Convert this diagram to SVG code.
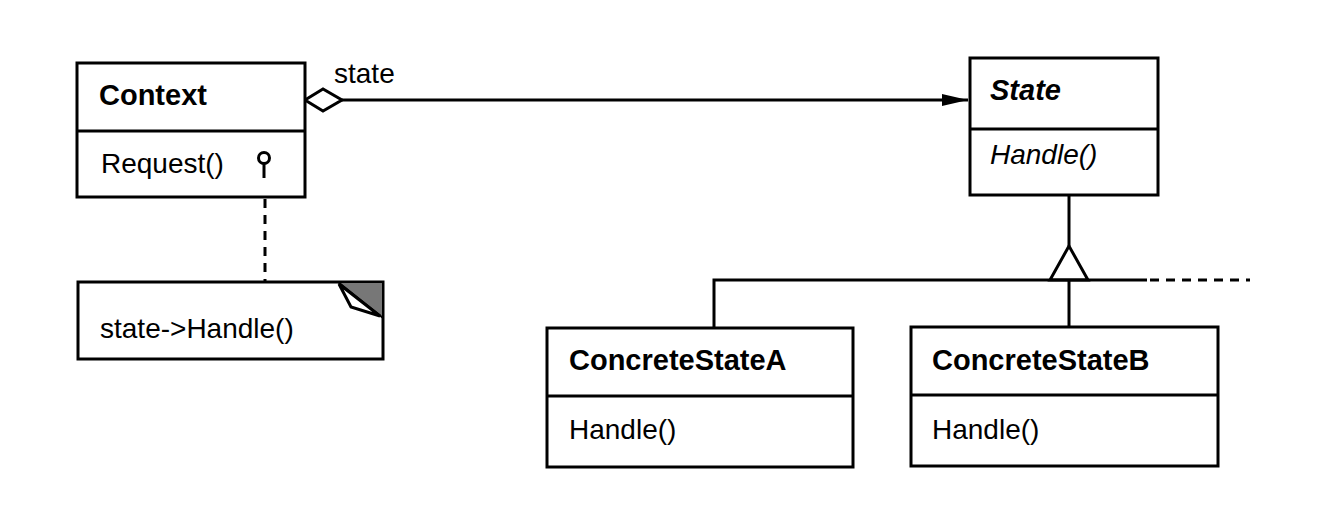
<svg xmlns="http://www.w3.org/2000/svg" width="1342" height="516" viewBox="0 0 1342 516">
  <defs>
    <style>
      .box { fill: #fff; stroke: #000; stroke-width: 3; }
      .div { stroke: #000; stroke-width: 3; fill: none; }
      .line { stroke: #000; stroke-width: 3; fill: none; }
      .dash { stroke: #000; stroke-width: 3; fill: none; stroke-dasharray: 9 7; }
      .cls { font-family: "Liberation Sans", Arial, sans-serif; font-size: 29px; font-weight: bold; fill: #000; }
      .op { font-family: "Liberation Sans", Arial, sans-serif; font-size: 28px; fill: #000; }
      .abs { font-style: italic; }
    </style>
    <marker id="arrowFilled" viewBox="0 0 26 14" refX="26" refY="7" markerWidth="26" markerHeight="14" markerUnits="userSpaceOnUse" orient="auto">
      <path d="M0,1 L26,7 L0,13 Z" fill="#000"/>
    </marker>
  </defs>

  <rect width="1342" height="516" fill="#fff"/>

  <!-- connectors -->
  <g id="connectors">
    <!-- aggregation Context -> State -->
    <line class="line" x1="342" y1="100" x2="968" y2="100" marker-end="url(#arrowFilled)"/>
    <polygon points="305,100 323,89 342,100 323,111" fill="#fff" stroke="#000" stroke-width="3"/>
    <text class="op" x="334" y="83">state</text>

    <!-- note link -->
    <line class="dash" x1="265" y1="199" x2="265" y2="282" stroke-dasharray="7 6"/>

    <!-- inheritance tree -->
    <line class="line" x1="1069" y1="196" x2="1069" y2="246"/>
    <polygon points="1069,246 1050,280 1088,280" fill="#fff" stroke="#000" stroke-width="3"/>
    <polyline class="line" points="714,328 714,280 1147,280"/>
    <line class="dash" x1="1150" y1="280" x2="1250" y2="280"/>
    <line class="line" x1="1069" y1="280" x2="1069" y2="327"/>
  </g>

  <!-- Context -->
  <g id="context">
    <rect class="box" x="77" y="63" width="228" height="134"/>
    <line class="div" x1="77" y1="131" x2="305" y2="131"/>
    <text class="cls" x="99" y="105">Context</text>
    <text class="op" x="101" y="173">Request()</text>
    <circle cx="264" cy="158" r="5.5" fill="#fff" stroke="#000" stroke-width="3"/>
    <line class="line" x1="264" y1="163.5" x2="264" y2="178"/>
  </g>

  <!-- Note -->
  <g id="note">
    <rect class="box" x="78" y="282" width="305" height="77"/>
    <polygon points="338,282 383,282 383,318" fill="#777" stroke="#000" stroke-width="2"/>
    <polygon points="339,284 351,307 380,316" fill="#fff" stroke="#000" stroke-width="3"/>
    <text class="op" x="100" y="338">state-&gt;Handle()</text>
  </g>

  <!-- State -->
  <g id="state">
    <rect class="box" x="970" y="58" width="188" height="137"/>
    <line class="div" x1="970" y1="129" x2="1158" y2="129"/>
    <text class="cls abs" x="990" y="100">State</text>
    <text class="op abs" x="990" y="164">Handle()</text>
  </g>

  <!-- ConcreteStateA -->
  <g id="concreteStateA">
    <rect class="box" x="547" y="328" width="306" height="139"/>
    <line class="div" x1="547" y1="396" x2="853" y2="396"/>
    <text class="cls" x="569" y="370">ConcreteStateA</text>
    <text class="op" x="569" y="439">Handle()</text>
  </g>

  <!-- ConcreteStateB -->
  <g id="concreteStateB">
    <rect class="box" x="911" y="327" width="307" height="139"/>
    <line class="div" x1="911" y1="395" x2="1218" y2="395"/>
    <text class="cls" x="932" y="370">ConcreteStateB</text>
    <text class="op" x="932" y="439">Handle()</text>
  </g>
</svg>
